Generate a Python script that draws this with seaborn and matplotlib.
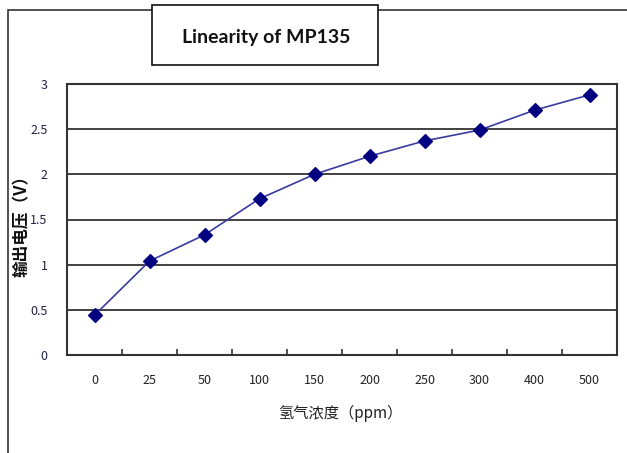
import numpy as np
import pandas as pd
import matplotlib
matplotlib.use("Agg")
import matplotlib.pyplot as plt
import seaborn as sns
from matplotlib.patches import Rectangle

concentration = ["0", "25", "50", "100", "150", "200", "250", "300", "400", "500"]
voltage = [0.44, 1.04, 1.33, 1.73, 2.00, 2.20, 2.37, 2.49, 2.71, 2.88]
y_ticks = [0, 0.5, 1, 1.5, 2, 2.5, 3]
y_tick_labels = ["0", "0.5", "1", "1.5", "2", "2.5", "3"]

sns.set_theme(style="white")
plt.rcParams["font.family"] = ["Noto Sans CJK SC", "DejaVu Sans"]

df = pd.DataFrame({"ppm": concentration, "v": voltage})

fig = plt.figure(figsize=(6.27, 4.53), dpi=100)
ax = fig.add_axes([67 / 627, 1 - 355 / 453, 550 / 627, 271 / 453])

sns.pointplot(data=df, x="ppm", y="v", color="#000080", marker="D",
              markersize=7, linewidth=1.2, errorbar=None, ax=ax)
for ln in ax.lines:
    ln.set_color("#3a3aa0")
    ln.set_markerfacecolor("#000080")
    ln.set_markeredgecolor("#000080")

ax.set_xlim(-0.5, 9.5)
ax.set_ylim(0, 3)
ax.set_yticks(y_ticks)
ax.set_yticklabels(y_tick_labels)
for y in y_ticks[1:-1]:
    ax.axhline(y, color="#333333", linewidth=1.3, zorder=0)
for s in ax.spines.values():
    s.set_color("#333333")
    s.set_linewidth(1.5)

ax.set_xticks(np.arange(0.5, 9, 1), minor=True)
ax.tick_params(axis="x", which="minor", direction="in", length=4, width=1.2,
               color="#333333", bottom=True)
ax.tick_params(axis="x", which="major", length=0, pad=14, labelsize=9, colors="#222222")
ax.tick_params(axis="y", length=0, pad=14, labelsize=9, labelcolor="#222244")
ax.set_xlabel("")
ax.set_ylabel("")

fig.text(340 / 627, 1 - 413 / 453, "氢气浓度（ppm）", ha="center", va="center",
         fontsize=11, color="#222222")
fig.text(22 / 627, 1 - 222 / 453, "输出电压（V）", ha="center", va="center",
         rotation=90, fontsize=12, fontweight="bold", color="#111111")

frame = Rectangle((8 / 627, -0.1), 1.2, 1 - 10 / 453 + 0.1, transform=fig.transFigure,
                  fill=False, edgecolor="#333333", linewidth=1.2)
fig.patches.append(frame)

box = Rectangle((152 / 627, 1 - 65 / 453), 226 / 627, 60 / 453, transform=fig.transFigure,
                facecolor="white", edgecolor="#111111", linewidth=1.2, zorder=5)
fig.patches.append(box)
fig.text(266 / 627, 1 - 37 / 453, "Linearity of MP135", ha="center", va="center",
         fontsize=14, fontweight="bold", color="#111111", zorder=6,
         family=["Lato", "DejaVu Sans"])

fig.savefig("out.png", dpi=100)
